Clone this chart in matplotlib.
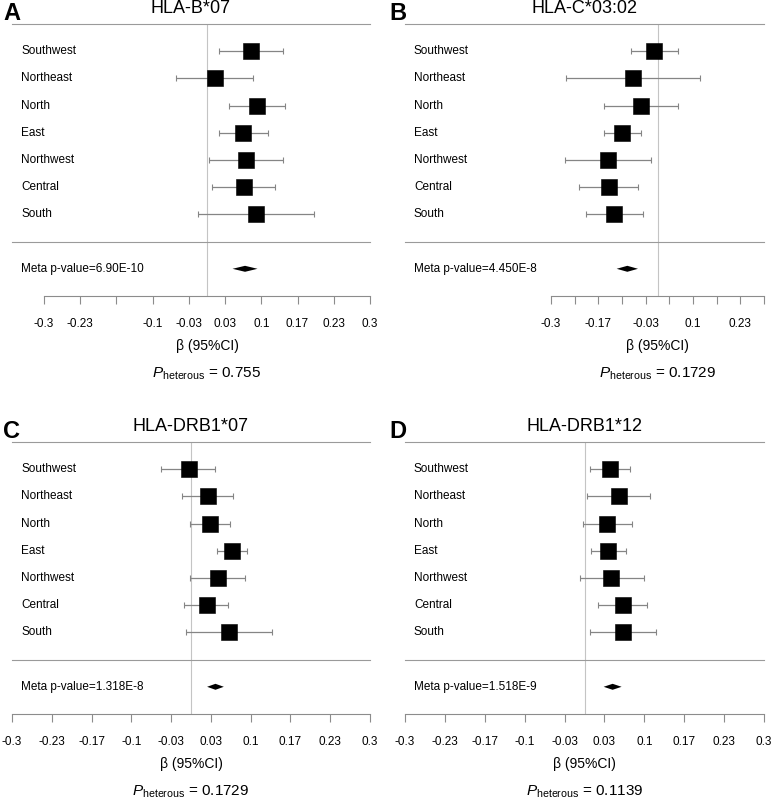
import numpy as np
import matplotlib
matplotlib.use("Agg")
import matplotlib.pyplot as plt
from matplotlib.transforms import blended_transform_factory

plt.rcParams['font.family'] = ['Liberation Sans', 'DejaVu Sans']
plt.rcParams['mathtext.fontset'] = 'custom'
plt.rcParams['mathtext.rm'] = 'Liberation Sans'
plt.rcParams['mathtext.it'] = 'Liberation Sans:italic'

# Data
regions = ["Southwest", "Northeast", "North", "East", "Northwest", "Central", "South"]
ticks = np.linspace(-0.3, 0.3, 10)
tick_text = ["-0.3", "-0.23", "-0.17", "-0.1", "-0.03", "0.03", "0.1", "0.17", "0.23", "0.3"]

# A: HLA-B*07
b07_beta = [0.081, 0.014, 0.092, 0.067, 0.072, 0.068, 0.090]
b07_lo = [0.023, -0.057, 0.040, 0.023, 0.003, 0.010, -0.017]
b07_hi = [0.139, 0.084, 0.143, 0.112, 0.139, 0.126, 0.197]
b07_meta = (0.047, 0.070, 0.093)

# B: HLA-C*03:02
c0302_beta = [-0.009, -0.070, -0.046, -0.099, -0.140, -0.138, -0.122]
c0302_lo = [-0.076, -0.258, -0.150, -0.152, -0.260, -0.221, -0.202]
c0302_hi = [0.058, 0.119, 0.058, -0.046, -0.019, -0.054, -0.041]
c0302_meta = (-0.115, -0.085, -0.055)

# C: HLA-DRB1*07
drb07_beta = [-0.004, 0.028, 0.032, 0.069, 0.045, 0.026, 0.064]
drb07_lo = [-0.050, -0.015, -0.001, 0.044, -0.001, -0.011, -0.008]
drb07_hi = [0.041, 0.071, 0.065, 0.094, 0.091, 0.062, 0.135]
drb07_meta = (0.027, 0.041, 0.055)

# D: HLA-DRB1*12
drb12_beta = [0.043, 0.057, 0.038, 0.040, 0.045, 0.064, 0.064]
drb12_lo = [0.009, 0.004, -0.002, 0.011, -0.008, 0.022, 0.009]
drb12_hi = [0.076, 0.110, 0.079, 0.069, 0.099, 0.104, 0.119]
drb12_meta = (0.032, 0.047, 0.062)

titles = ["HLA-B*07", "HLA-C*03:02", "HLA-DRB1*07", "HLA-DRB1*12"]
letters = ["A", "B", "C", "D"]
meta_p = ["6.90E-10", "4.450E-8", "1.318E-8", "1.518E-9"]
p_het = ["0.755", "0.1729", "0.1729", "0.1139"]

panels = [
    (b07_beta, b07_lo, b07_hi, b07_meta),
    (c0302_beta, c0302_lo, c0302_hi, c0302_meta),
    (drb07_beta, drb07_lo, drb07_hi, drb07_meta),
    (drb12_beta, drb12_lo, drb12_hi, drb12_meta),
]

# which tick labels are shown in each panel
shown = [
    [1, 1, 0, 1, 1, 1, 1, 1, 1, 1],
    [1, 0, 1, 0, 1, 0, 1, 0, 1, 0],
    [1] * 10,
    [1] * 10,
]

# Layout in pixels: axis left/right, top line y, panel span left/right, label x, letter x
W, H = 774, 799
layout = [
    dict(ax_l=44, ax_r=370, top=24, span_l=12, span_r=370, lab_x=21, let_x=3),
    dict(ax_l=551, ax_r=764, top=24, span_l=405, span_r=764, lab_x=414, let_x=389),
    dict(ax_l=12, ax_r=370, top=442, span_l=12, span_r=370, lab_x=21, let_x=3),
    dict(ax_l=405, ax_r=764, top=442, span_l=405, span_r=764, lab_x=414, let_x=389),
]


def fx(px):
    return px / W


def fy(py):
    return 1 - py / H


fig = plt.figure(figsize=(W / 100, H / 100), dpi=100)

for k, (est, lo, hi, meta) in enumerate(panels):
    g = layout[k]
    top = g["top"]
    bottom = top + 272
    ax = fig.add_axes([fx(g["ax_l"]), fy(bottom), (g["ax_r"] - g["ax_l"]) / W, 272 / H])
    ax.set_xlim(-0.3, 0.3)
    ax.set_ylim(9, -1)
    ax.patch.set_alpha(0)
    for s in ["top", "left", "right"]:
        ax.spines[s].set_visible(False)
    ax.spines["bottom"].set_color("#8c8c8c")
    ax.spines["bottom"].set_linewidth(0.8)
    ax.set_yticks([])
    ax.set_xticks(ticks, [t if v else "" for t, v in zip(tick_text, shown[k])])
    ax.tick_params(axis="x", direction="out", length=6, width=0.8, color="#8c8c8c",
                   labelsize=8.5, pad=10)

    ax.axvline(0, color="#c4c4c4", lw=0.8, zorder=0)

    tr = blended_transform_factory(fig.transFigure, ax.transData)
    for yy in [-1, 7]:
        ax.plot([fx(g["span_l"]), fx(g["span_r"])], [yy, yy], transform=tr,
                color="#9a9a9a", lw=0.8, clip_on=False)

    y = np.arange(len(regions))
    est = np.array(est)
    ax.errorbar(est, y, xerr=[est - np.array(lo), np.array(hi) - est], fmt="none",
                ecolor="#858585", elinewidth=0.9, capsize=2, capthick=0.8)
    ax.plot(est, y, "s", color="black", ms=11, mew=0.4)

    m_lo, m_est, m_hi = meta
    ax.fill([m_lo, m_est, m_hi, m_est], [8, 7.89, 8, 8.11], color="black", lw=0)

    for i, name in enumerate(regions):
        ax.text(fx(g["lab_x"]), i, name, transform=tr, va="center", ha="left", fontsize=8.5)
    ax.text(fx(g["lab_x"]), 8, "Meta p-value=" + meta_p[k], transform=tr,
            va="center", ha="left", fontsize=8.5)

    zero_px = (g["ax_l"] + g["ax_r"]) / 2
    span_c = (g["span_l"] + g["span_r"]) / 2
    fig.text(fx(span_c), fy(top - 15.5), titles[k], ha="center", va="center", fontsize=13)
    fig.text(fx(g["let_x"]), fy(top - 10.5), letters[k], ha="left", va="center",
             fontsize=17, fontweight="bold")
    fig.text(fx(zero_px), fy(bottom + 50), "β (95%CI)", ha="center", va="center", fontsize=10)
    fig.text(fx(zero_px), fy(bottom + 78), r"$P_{\mathrm{heterous}}$ = " + p_het[k],
             ha="center", va="center", fontsize=11)

fig.savefig("out.png", dpi=100)
